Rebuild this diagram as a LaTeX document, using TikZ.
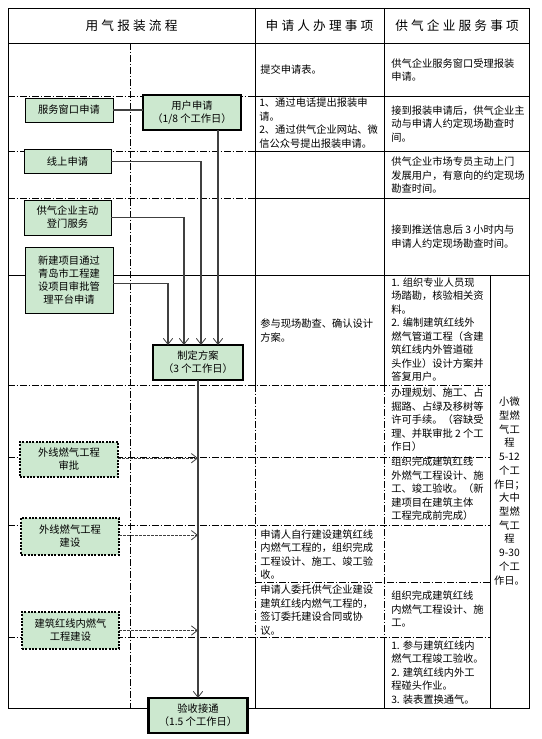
\documentclass[tikz,border=0pt]{standalone}
\usepackage{fontspec}
\setmainfont{Noto Sans CJK SC}
\newfontfamily\hdfont[LetterSpace=25]{Noto Sans CJK SC}
\usetikzlibrary{arrows.meta}
\definecolor{boxgreen}{RGB}{204,232,207}
\newcommand\cellfont{\fontsize{7.7}{10.1}\selectfont}
\newcommand\boxfont{\fontsize{7.7}{9.8}\selectfont}
\tikzset{
 solidline/.style={line width=0.75pt},
 ddot/.style={line width=0.6pt, dash pattern=on 5pt off 1.4pt on 1.2pt off 1.4pt},
 greenbox/.style={draw, fill=boxgreen, line width=0.75pt, inner sep=0pt, outer sep=0pt, align=center, font=\boxfont},
 keybox/.style={greenbox, line width=2pt},
 dotbox/.style={greenbox, line width=1.5pt, dash pattern=on 1.5pt off 1pt},
 sz/.style 2 args={minimum width=#1*0.75pt, minimum height=#2*0.75pt},
 cell/.style={anchor=west, inner sep=0pt, align=left, font=\cellfont},
 subcell/.style={inner sep=0pt, align=center, font=\fontsize{7.7}{10.3}\selectfont},
 arr/.style={line width=0.8pt, draw=black!75, -{Straight Barb[length=4.5pt,width=7pt,line width=0.6pt]}},
 darr/.style={arr, dash pattern=on 2pt off 1pt},
 link/.style={line width=0.8pt, draw=black!75},
 hd/.style={font=\hdfont\fontsize{9.5}{11}\selectfont, inner sep=0pt}
}
\begin{document}
\begin{tikzpicture}[x=0.75pt, y=-0.75pt]
\useasboundingbox (0,0) rectangle (542,739);
\fill[white] (0,0) rectangle (542,739);
% ---- table lines ----
\draw[solidline] (8,8) rectangle (529,708);
\draw[solidline] (8,43) -- (529,43);
\draw[solidline] (255,8) -- (255,385);
\draw[ddot] (255,385) -- (255,637);
\draw[solidline] (255,637) -- (255,708);
\draw[solidline] (384,8) -- (384,385);
\draw[ddot] (384,385) -- (384,637);
\draw[solidline] (384,637) -- (384,708);
\draw[solidline] (490,275) -- (490,708);
\draw[ddot] (130,43) -- (130,708);
\foreach \yy in {96,151,198} {
  \draw[ddot] (8,\yy) -- (255,\yy);
  \draw[solidline] (255,\yy) -- (529,\yy);
}
\draw[solidline] (8,275) -- (529,275);
\draw[ddot] (8,385) -- (490,385);
\draw[ddot] (8,457) -- (490,457);
\draw[ddot] (8,525) -- (490,525);
\draw[ddot] (255,582) -- (490,582);
\draw[ddot] (8,637) -- (490,637);
% ---- headers ----
\node[hd] (h1) at (131.5,26) {用气报装流程};
\node[hd] (h2) at (319.5,26) {申请人办理事项};
\node[hd] (h3) at (457,26) {供气企业服务事项};
% ---- column 2 texts ----
\node[cell] (c21) at (260,70) {提交申请表。};
\node[cell] (c22) at (259,123) {1、通过电话提出报装申\\请。\\2、通过供气企业网站、微\\信公众号提出报装申请。};
\node[cell] (c25) at (260,330.5) {参与现场勘查、确认设计\\方案。};
\node[cell] (c28) at (260,554.5) {申请人自行建设建筑红线\\内燃气工程的，组织完成\\工程设计、施工、竣工验\\收。};
\node[cell] (c29) at (260,610) {申请人委托供气企业建设\\建筑红线内燃气工程的，\\签订委托建设合同或协\\议。};
% ---- column 3 texts ----
\node[cell] (c31) at (391,70) {供气企业服务窗口受理报装\\申请。};
\node[cell] (c32) at (391,124) {接到报装申请后，供气企业主\\动与申请人约定现场勘查时\\间。};
\node[cell] (c33) at (391,175.5) {供气企业市场专员主动上门\\发展用户，有意向的约定现场\\勘查时间。};
\node[cell] (c34) at (391,236.5) {接到推送信息后 3 小时内与\\申请人约定现场勘查时间。};
\node[cell] (c35) at (391,329.5) {1. 组织专业人员现\\场踏勘，核验相关资\\料。\\2. 编制建筑红线外\\燃气管道工程（含建\\筑红线内外管道碰\\头作业）设计方案并\\答复用户。};
\node[cell] (c36) at (391,420) {办理规划、施工、占\\掘路、占绿及移树等\\许可手续。（容缺受\\理、并联审批 2 个工\\作日）};
\node[cell] (c37) at (391,489) {组织完成建筑红线\\外燃气工程设计、施\\工、竣工验收。（新\\建项目在建筑主体\\工程完成前完成）};
\node[cell] (c39) at (391,609) {组织完成建筑红线\\内燃气工程设计、施\\工。};
\node[cell] (c310) at (391,672.5) {1. 参与建筑红线内\\燃气工程竣工验收。\\2. 建筑红线内外工\\程碰头作业。\\3. 装表置换通气。};
\node[subcell] (sc) at (509.5,491) {小微\\型燃\\气工\\程\\5-12\\个工\\作日；\\大中\\型燃\\气工\\程\\9-30\\个工\\作日。};
% ---- flow boxes ----
\node[greenbox, sz={88}{24}] (fw) at (69,110) {服务窗口申请};
\node[keybox, sz={98}{35}] (yh) at (192,112.5) {用户申请\\（1/8 个工作日）};
\node[greenbox, sz={87}{24}] (xs) at (67.5,161.5) {线上申请};
\node[greenbox, sz={87}{35}] (gq) at (67.5,217.5) {供气企业主动\\登门服务};
\node[greenbox, sz={88}{66}] (xj) at (69,280) {新建项目通过\\青岛市工程建\\设项目审批管\\理平台申请};
\node[keybox, sz={90}{35}] (zd) at (198,362.5) {制定方案\\（3 个工作日）};
\node[dotbox, sz={98}{35}] (sp) at (69,459.5) {外线燃气工程\\审批};
\node[dotbox, sz={98}{37}] (js) at (70,536.5) {外线燃气工程\\建设};
\node[dotbox, sz={97}{37}] (hx) at (70.5,630.5) {建筑红线内燃气\\工程建设};
\node[keybox, sz={99}{35}] (ys) at (198,715.5) {验收接通\\（1.5 个工作日）};
% ---- arrow columns ----
\coordinate (ax1) at (168,0);
\coordinate (ax2) at (184,0);
\coordinate (ax3) at (201,0);
\coordinate (ax4) at (218,0);
% ---- connectors ----
\draw[link] (fw.east) -- (fw.east -| yh.west);
\draw[arr] (yh.south -| ax4) -- (zd.north -| ax4);
\draw[arr] (xs.east) -| (zd.north -| ax3);
\draw[arr] (gq.east) -| (zd.north -| ax2);
\draw[arr] ([yshift=-2.5pt]xj.east) -| (zd.north -| ax1);
\draw[arr] (zd.south) -- (zd.south |- ys.north);
\draw[darr] ([yshift=1pt]sp.east) -- ([yshift=1pt]sp.east -| zd.south);
\draw[darr] ([yshift=1pt]js.east) -- ([yshift=1pt]js.east -| zd.south);
\draw[darr] (hx.east) -- (hx.east -| zd.south);
\end{tikzpicture}
\end{document}
